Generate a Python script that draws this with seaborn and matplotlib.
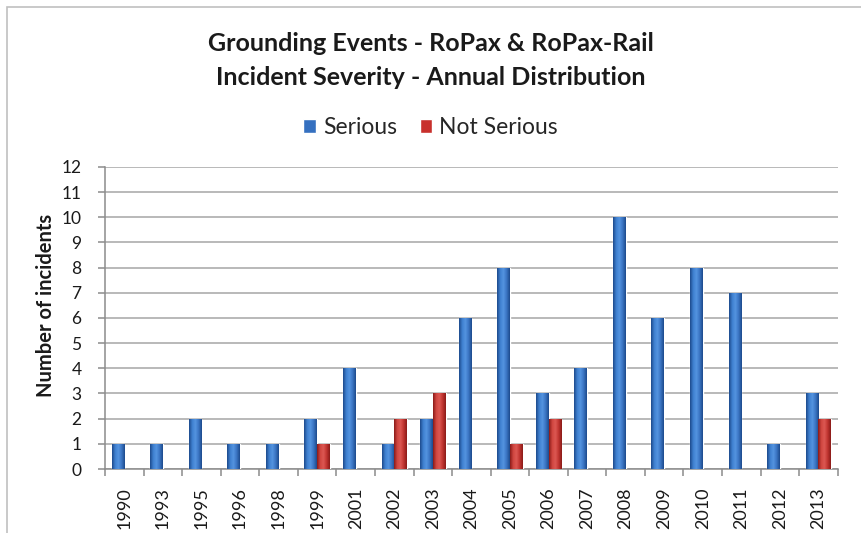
import numpy as np
import pandas as pd
import matplotlib
matplotlib.use("Agg")
import matplotlib.pyplot as plt
from matplotlib.colors import LinearSegmentedColormap
from matplotlib.patches import Rectangle
import seaborn as sns

years = ["1990", "1993", "1995", "1996", "1998", "1999", "2001", "2002", "2003", "2004",
         "2005", "2006", "2007", "2008", "2009", "2010", "2011", "2012", "2013"]
serious = [1, 1, 2, 1, 1, 2, 4, 1, 2, 6, 8, 3, 4, 10, 6, 8, 7, 1, 3]
not_serious = [0, 0, 0, 0, 0, 1, 0, 2, 3, 0, 1, 2, 0, 0, 0, 0, 0, 0, 2]
series_names = ["Serious", "Not Serious"]
series_colors = {"Serious": "#3570c0", "Not Serious": "#c8302c"}

df = pd.DataFrame({
    "Year": years * 2,
    "Count": serious + not_serious,
    "Severity": [series_names[0]] * len(years) + [series_names[1]] * len(years),
})

sns.set_theme(style="white")
plt.rcParams["font.family"] = ["Lato", "DejaVu Sans"]

fig = plt.figure(figsize=(8.61, 5.33), dpi=100)
ax = fig.add_axes([0.122, 0.12, 0.851, 0.567])

sns.barplot(data=df, x="Year", y="Count", hue="Severity", palette=series_colors,
            width=0.66, ax=ax, legend=False, saturation=1)

# cylinder-like shading on each bar
shades = {
    "Serious": LinearSegmentedColormap.from_list("b", ["#1d4a8c", "#3f80d0", "#5494e0", "#3a74c2", "#1d4a8c"]),
    "Not Serious": LinearSegmentedColormap.from_list("r", ["#8a1b18", "#d04640", "#dc5852", "#c03430", "#8a1b18"]),
}
grad = np.linspace(0, 1, 64).reshape(1, -1)
n = len(years)
for i, p in enumerate(list(ax.patches)):
    h = p.get_height()
    if h <= 0:
        p.set_visible(False)
        continue
    name = series_names[0] if i < n else series_names[1]
    x0, w = p.get_x(), p.get_width()
    im = ax.imshow(grad, cmap=shades[name], extent=[x0, x0 + w, 0, h],
                   aspect="auto", zorder=3, interpolation="bilinear")
    im.set_clip_path(p)
    p.set_zorder(3)

ax.set_xlim(-0.5, n - 0.5)
ax.set_ylim(0, 12)
ax.set_yticks(range(0, 13))
ax.set_ylabel("Number of incidents", fontsize=14.5, fontweight="bold", color="#1a1a1a")
ax.yaxis.set_label_coords(-0.067, 0.54)
ax.set_xlabel("")
ax.grid(axis="y", color="#a6a6a6", linewidth=1.1)
ax.set_axisbelow(True)
for side in ["top", "right"]:
    ax.spines[side].set_visible(False)
for side in ["left", "bottom"]:
    ax.spines[side].set_color("#8c8c8c")
    ax.spines[side].set_linewidth(1.1)

ax.set_xticks(range(n))
ax.set_xticklabels(years, rotation=90, fontsize=13, color="#1a1a1a")
ax.set_xticks(np.arange(-0.5, n, 1), minor=True)
ax.tick_params(axis="x", which="major", length=0, pad=13)
ax.tick_params(axis="x", which="minor", length=5, color="#8c8c8c", width=1.1, direction="out", bottom=True)
ax.tick_params(axis="y", length=5, color="#8c8c8c", width=1.1, direction="out", left=True,
               labelsize=12.5, labelcolor="#1a1a1a", pad=12)

fig.text(0.5, 0.919, "Grounding Events - RoPax & RoPax-Rail", ha="center", va="center",
         fontsize=18, fontweight="bold", color="#1a1a1a")
fig.text(0.5, 0.855, "Incident Severity - Annual Distribution", ha="center", va="center",
         fontsize=18, fontweight="bold", color="#1a1a1a")

handles = [Rectangle((0, 0), 1, 1, facecolor=series_colors[s]) for s in series_names]
fig.legend(handles, series_names, loc="center", bbox_to_anchor=(0.5, 0.76), ncol=2,
           frameon=False, fontsize=16.5, handlelength=0.55, handleheight=0.55,
           handletextpad=0.3, columnspacing=1.0)

# chart-area border
fig.add_artist(Rectangle((0.008, -0.02), 1.0, 1.007, transform=fig.transFigure,
                         fill=False, edgecolor="#c0c0c0", linewidth=1.2))

fig.savefig("out.png", dpi=100)
